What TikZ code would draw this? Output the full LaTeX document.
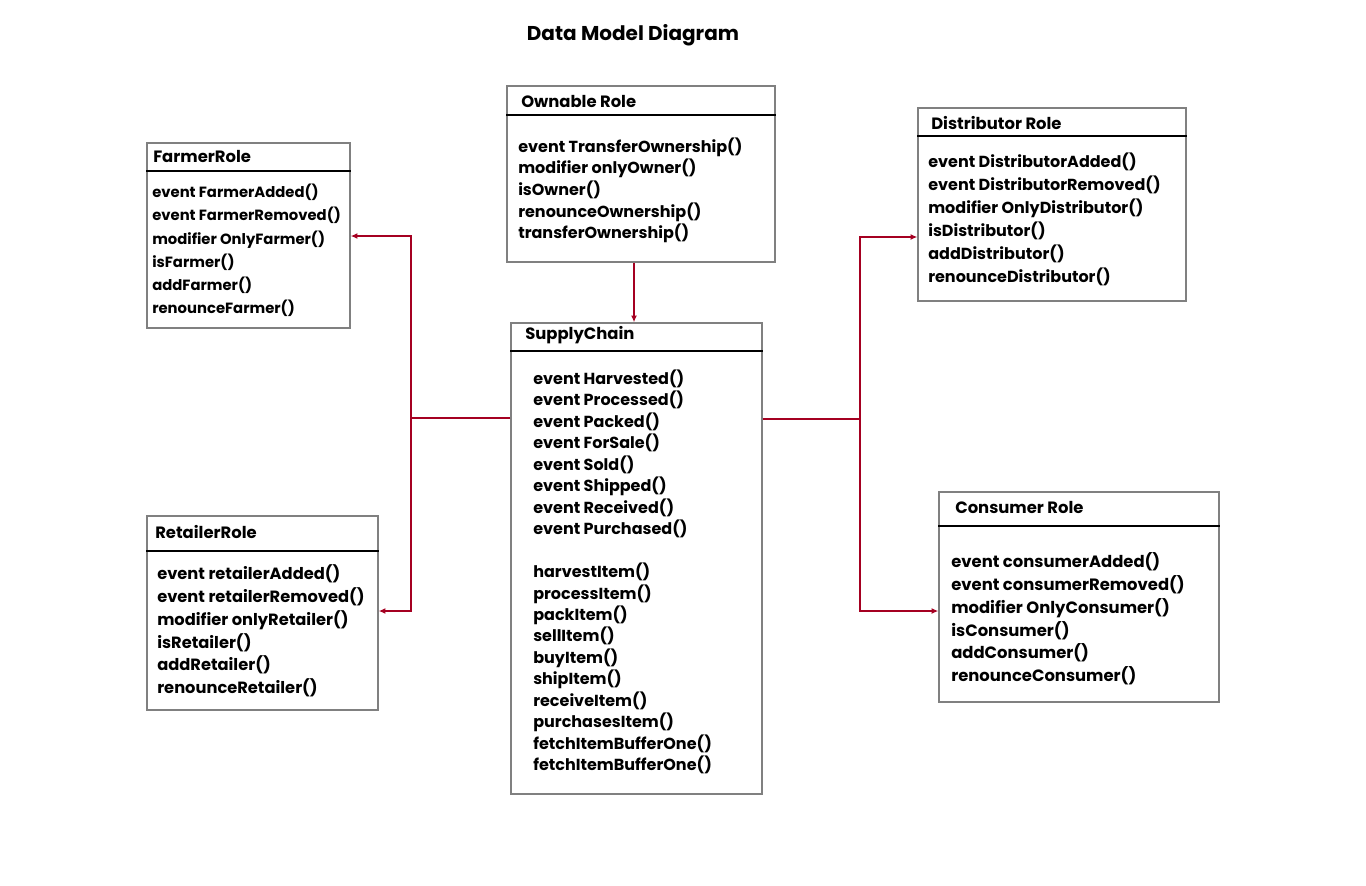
\documentclass[tikz,border=0pt]{standalone}
\usepackage{fontspec}
\setmainfont{Poppins}
\usetikzlibrary{arrows.meta,fit}
\definecolor{connred}{HTML}{A50021}
\definecolor{boxgray}{HTML}{808080}
\begin{document}
\begin{tikzpicture}[x=0.75pt,y=-0.75pt,
  cls/.style={draw=boxgray, line width=1.1pt, inner sep=0pt, fill=white},
  sep/.style={draw=black, line width=1.1pt},
  hdr/.style={anchor=west, inner sep=0pt, font=\fontsize{12.3}{14}\selectfont\bfseries},
  body/.style={anchor=north west, align=left, inner sep=0pt},
  conn/.style={draw=connred, line width=1.5pt},
  tip/.style={-{Latex[length=5pt,width=4.5pt]}}]
\useasboundingbox[fill=white] (0,0) rectangle (1366,885);

\node[font=\fontsize{15}{18}\selectfont\bfseries, inner sep=0pt] (title) at (633,35) {Data Model Diagram};

% Ownable Role
\coordinate (o1) at (507,86); \coordinate (o2) at (775,262);
\node[cls, fit=(o1)(o2)] (own) {};
\coordinate (oy) at (0,115);
\draw[sep] (own.west |- oy) -- (own.east |- oy);
\node[hdr] (ownT) at (521,101) {Ownable Role};
\node[body, font=\fontsize{12}{16.2}\selectfont\bfseries] (ownB) at (518,137.5) {event TransferOwnership()\\modifier onlyOwner()\\isOwner()\\renounceOwnership()\\transferOwnership()};

% FarmerRole
\coordinate (f1) at (147,143); \coordinate (f2) at (350,328);
\node[cls, fit=(f1)(f2)] (farmer) {};
\coordinate (fy) at (0,171);
\draw[sep] (farmer.west |- fy) -- (farmer.east |- fy);
\node[hdr] (farmerT) at (153,156) {FarmerRole};
\node[body, font=\fontsize{11.1}{17.4}\selectfont\bfseries] (farmerB) at (152,184) {event FarmerAdded()\\event FarmerRemoved()\\modifier OnlyFarmer()\\isFarmer()\\addFarmer()\\renounceFarmer()};

% Distributor Role
\coordinate (d1) at (918,108); \coordinate (d2) at (1186,301);
\node[cls, fit=(d1)(d2)] (dist) {};
\coordinate (dy) at (0,136);
\draw[sep] (dist.west |- dy) -- (dist.east |- dy);
\node[hdr] (distT) at (931,123) {Distributor Role};
\node[body, font=\fontsize{12}{17.25}\selectfont\bfseries] (distB) at (928,152.5) {event DistributorAdded()\\event DistributorRemoved()\\modifier OnlyDistributor()\\isDistributor()\\addDistributor()\\renounceDistributor()};

% RetailerRole
\coordinate (r1) at (147,516); \coordinate (r2) at (378,710);
\node[cls, fit=(r1)(r2)] (ret) {};
\coordinate (ry) at (0,551);
\draw[sep] (ret.west |- ry) -- (ret.east |- ry);
\node[hdr] (retT) at (155,532) {RetailerRole};
\node[body, font=\fontsize{12.2}{17.1}\selectfont\bfseries] (retB) at (157,564.5) {event retailerAdded()\\event retailerRemoved()\\modifier onlyRetailer()\\isRetailer()\\addRetailer()\\renounceRetailer()};

% SupplyChain
\coordinate (s1) at (511,323); \coordinate (s2) at (762,794);
\node[cls, fit=(s1)(s2)] (sc) {};
\coordinate (sy) at (0,351);
\draw[sep] (sc.west |- sy) -- (sc.east |- sy);
\node[hdr] (scT) at (525,335) {SupplyChain};
\node[body, font=\fontsize{12}{16.1}\selectfont\bfseries] (scB) at (533,369.5) {event Harvested()\\event Processed()\\event Packed()\\event ForSale()\\event Sold()\\event Shipped()\\event Received()\\event Purchased()\\[16.1pt]harvestItem()\\processItem()\\packItem()\\sellItem()\\buyItem()\\shipItem()\\receiveItem()\\purchasesItem()\\fetchItemBufferOne()\\fetchItemBufferOne()};

% Consumer Role
\coordinate (c1) at (939,492); \coordinate (c2) at (1219,702);
\node[cls, fit=(c1)(c2)] (cons) {};
\coordinate (cy) at (0,526);
\draw[sep] (cons.west |- cy) -- (cons.east |- cy);
\node[hdr] (consT) at (955,507) {Consumer Role};
\node[body, font=\fontsize{12.3}{17.1}\selectfont\bfseries] (consB) at (951,552.5) {event consumerAdded()\\event consumerRemoved()\\modifier OnlyConsumer()\\isConsumer()\\addConsumer()\\renounceConsumer()};

% connectors
\coordinate (ox) at (634,0);
\draw[conn, tip] (own.south -| ox) -- (sc.north -| ox);

\coordinate (lj) at (411,418);
\coordinate (yF) at (0,236);
\coordinate (yR) at (0,611);
\draw[conn] (sc.west |- lj) -- (lj);
\draw[conn, tip] (lj) |- (farmer.east |- yF);
\draw[conn, tip] (lj) |- (ret.east |- yR);

\coordinate (rj) at (860,419);
\coordinate (yD) at (0,237);
\coordinate (yC) at (0,611);
\draw[conn] (sc.east |- rj) -- (rj);
\draw[conn, tip] (rj) |- (dist.west |- yD);
\draw[conn, tip] (rj) |- (cons.west |- yC);
\end{tikzpicture}
\end{document}
